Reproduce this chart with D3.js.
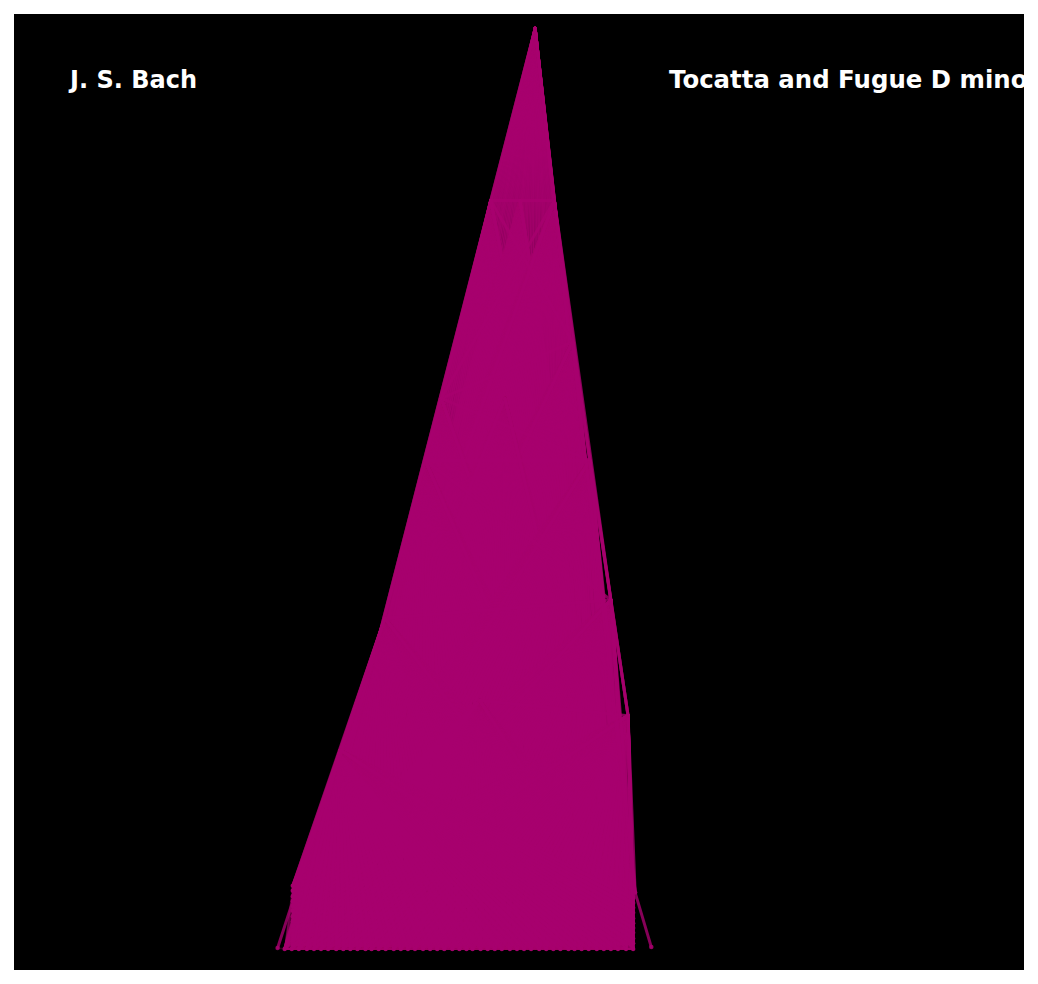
<!DOCTYPE html>
<html>
<head>
<meta charset="utf-8">
<script src="https://cdn.jsdelivr.net/npm/d3@7"></script>
<style>
  body { margin: 0; background: #fff; }
  svg { display: block; }
</style>
</head>
<body>
<script>
// Notes that stand above the bottom band (x: 0-100, y: 0-100 plot units)
const upperNames = ['A', 'A2', 'A3', 'B0', 'B', 'C', 'C2', 'D', 'R1', 'E', 'R2', 'M', 'F', 'L1'];
const upperX = [51.6, 47.2, 50.1, 53.5, 55.3, 42.3, 48.6, 40.7, 57.0, 36.7, 59.1, 46.1, 60.8, 32.3];
const upperY = [98.5, 80.5, 80.5, 80.5, 65.7, 59.8, 59.8, 53.3, 53.3, 36.8, 38.7, 28.2, 26.6, 23.0];
// lowest x each upper note reaches in the bottom band
const upperReach = [28.2, 28.2, 28.2, 26.8, 26.8, 28.2, 26.8, 28.2, 26.8, 26.0, 26.8, 26.0, 26.8, 26.0];

// single notes at the edges of the band
const edgeNames = ['G', 'H', 'tail', 'foot'];
const edgeX = [27.9, 61.5, 63.1, 26.1];
const edgeY = [9.1, 8.1, 2.4, 2.3];

// the bottom row of notes
const rowY = 2.2;
const rowX = [26.8, 27.5, 28.2, 29.0, 29.7, 30.4, 31.1, 31.9, 32.6, 33.3, 34.0, 34.8,
  35.4, 36.1, 36.8, 37.6, 38.3, 39.0, 39.7, 40.5, 41.2, 41.9, 42.6, 43.4, 44.1, 44.8,
  45.4, 46.2, 46.9, 47.6, 48.3, 49.1, 49.8, 50.5, 51.2, 52.0, 52.7, 53.4, 54.1, 54.9,
  55.5, 56.2, 56.9, 57.7, 58.4, 59.1, 59.8, 60.6, 61.3];

// left and right stacks of notes
const leftColX = 27.6;
const leftColY = [8.8, 8.3, 7.7, 7.2, 6.7, 6.2, 5.6, 5.1, 4.6, 4.1, 3.6, 3.0, 2.6];
const rightColX = 61.3;
const rightColY = [7.5, 7.0, 6.5, 6.0, 5.4, 4.9, 4.4, 3.9, 3.3, 2.8];

// melodic steps between named notes
const chain = [['A', 'A2'], ['A2', 'C'], ['C', 'D'], ['D', 'E'], ['E', 'L1'], ['L1', 'G'],
  ['E', 'foot'], ['A', 'B0'], ['B0', 'B'], ['B', 'R1'], ['R1', 'R2'], ['R2', 'F'],
  ['F', 'H'], ['H', 'tail'], ['A2', 'B0'], ['C', 'B'], ['D', 'R1'], ['E', 'R2'], ['M', 'F'],
  ['A2', 'B'], ['C', 'R1'], ['D', 'R2'], ['B0', 'C'], ['B', 'F'], ['B', 'H'], ['R1', 'F'],
  ['R1', 'H'], ['R2', 'H'], ['B0', 'R1'], ['B0', 'R2']];

const W = 1038, H = 984;
const color = '#a8006e';

const svg = d3.select('body').append('svg')
  .attr('width', W)
  .attr('height', H);

svg.append('rect')
  .attr('width', W)
  .attr('height', H)
  .attr('fill', '#fff');

const plot = { left: 14, top: 14, right: 1024, bottom: 970 };

svg.append('defs').append('clipPath')
  .attr('id', 'axclip')
  .append('rect')
  .attr('x', plot.left)
  .attr('y', plot.top)
  .attr('width', plot.right - plot.left)
  .attr('height', plot.bottom - plot.top);

svg.append('rect')
  .attr('x', plot.left)
  .attr('y', plot.top)
  .attr('width', plot.right - plot.left)
  .attr('height', plot.bottom - plot.top)
  .attr('fill', '#000');

const x = d3.scaleLinear().domain([0, 100]).range([plot.left, plot.right]);
const y = d3.scaleLinear().domain([0, 100]).range([plot.bottom, plot.top]);

// build the note list
const upper = upperNames.map((n, i) => ({ name: n, x: upperX[i], y: upperY[i], reach: upperReach[i] }));
const edges = edgeNames.map((n, i) => ({ name: n, x: edgeX[i], y: edgeY[i] }));
const lower = [
  ...rowX.map((v) => ({ x: v, y: rowY })),
  ...leftColY.map((v) => ({ x: leftColX, y: v })),
  ...rightColY.map((v) => ({ x: rightColX, y: v })),
];
const byName = {};
upper.concat(edges).forEach((d) => { byName[d.name] = d; });

// links inside the bottom band
const bandLinks = [];
for (let i = 0; i < lower.length; i++) {
  for (let j = i + 1; j < lower.length; j++) {
    bandLinks.push([lower[i], lower[j]]);
  }
}
bandLinks.push([byName.foot, lower[0]], [byName.G, lower[rowX.length]]);

// links from the high notes down into the band
const fanLinks = [];
upper.forEach((u) => {
  lower.filter((d) => d.x >= u.reach).forEach((d) => fanLinks.push([u, d]));
});

const chainLinks = chain.map(([a, b]) => [byName[a], byName[b]]);

const g = svg.append('g').attr('clip-path', 'url(#axclip)');

const drawLines = (data, width, opacity) => g.append('g')
  .selectAll('line')
  .data(data)
  .join('line')
  .attr('x1', (d) => x(d[0].x))
  .attr('y1', (d) => y(d[0].y))
  .attr('x2', (d) => x(d[1].x))
  .attr('y2', (d) => y(d[1].y))
  .attr('stroke', color)
  .attr('stroke-width', width)
  .attr('stroke-opacity', opacity)
  .attr('stroke-linecap', 'round');

drawLines(bandLinks, 1.5, 0.3);
drawLines(fanLinks, 3, 0.8);
drawLines(chainLinks, 3, 0.8);

// note markers
g.append('g')
  .selectAll('circle')
  .data(lower.concat(edges))
  .join('circle')
  .attr('cx', (d) => x(d.x))
  .attr('cy', (d) => y(d.y))
  .attr('r', 2.3)
  .attr('fill', color)
  .attr('fill-opacity', 0.8);

// labels (the title runs past the right edge of the plot, as in the original)
const label = g.append('g')
  .attr('font-family', 'DejaVu Sans, sans-serif')
  .attr('font-weight', 'bold')
  .attr('fill', '#fff');

label.append('text')
  .attr('x', 70)
  .attr('y', 88)
  .attr('font-size', 24)
  .text('J. S. Bach');

label.append('text')
  .attr('x', 669)
  .attr('y', 88)
  .attr('font-size', 24.4)
  .text('Tocatta and Fugue D minor');
</script>
</body>
</html>
